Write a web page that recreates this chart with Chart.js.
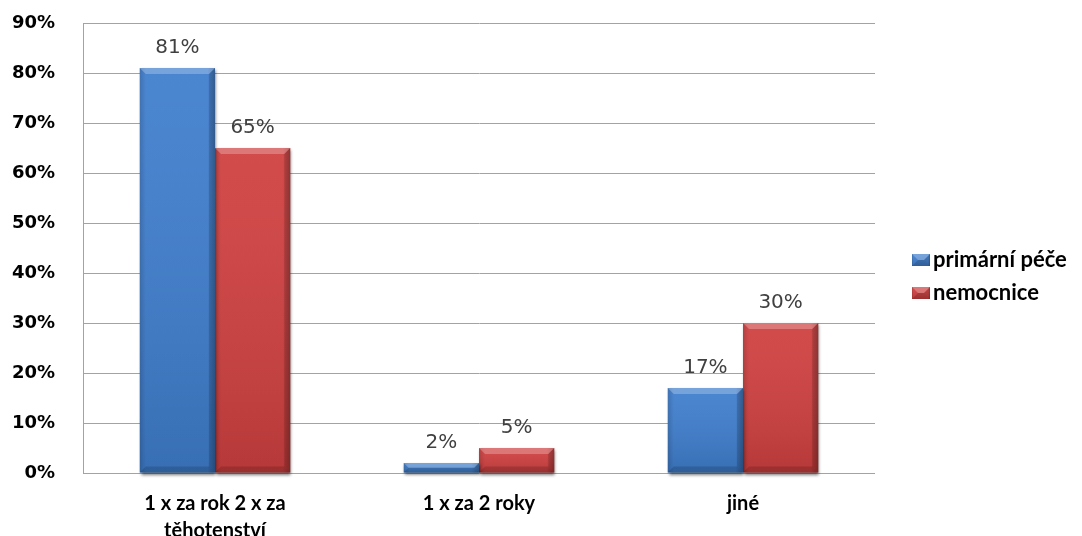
<!DOCTYPE html>
<html lang="cs">
<head>
<meta charset="utf-8">
<title>Frekvence</title>
<script src="https://cdn.jsdelivr.net/npm/chart.js@4.4.1/dist/chart.umd.min.js"></script>
<style>
    html, body { margin: 0; padding: 0; background: #fff; }
    #wrap { width: 1082px; height: 536px; position: relative; }
</style>
</head>
<body>
<div id="wrap"><canvas id="chart"></canvas></div>
<script>
// Kategorie a hodnoty (v %)
const categories = [['1 x za rok 2 x za', 'těhotenství'], '1 x za 2 roky', 'jiné'];
const primarniPece = [81, 2, 17];
const nemocnice = [65, 5, 30];
const seriesNames = ['primární péče', 'nemocnice'];
const seriesColors = ['#3f7ecd', '#d04040'];

// Stín pod sloupci
const barShadow = {
    id: 'barShadow',
    beforeDatasetsDraw(chart) {
        const ctx = chart.ctx;
        ctx.save();
        ctx.shadowColor = 'rgba(0,0,0,0.55)';
        ctx.shadowBlur = 3;
        ctx.shadowOffsetX = 1;
        ctx.shadowOffsetY = 2;
    },
    afterDatasetsDraw(chart) {
        chart.ctx.restore();
    }
};

// Zkosení hran a přechod na sloupcích
function drawBevel(ctx, left, top, w, h) {
    const b = Math.min(6, h / 2, w / 2);
    // svislý přechod
    let g = ctx.createLinearGradient(0, top, 0, top + h);
    g.addColorStop(0, 'rgba(255,255,255,0.06)');
    g.addColorStop(1, 'rgba(0,0,0,0.12)');
    ctx.fillStyle = g;
    ctx.fillRect(left, top, w, h);
    // vodorovný přechod
    g = ctx.createLinearGradient(left, 0, left + w, 0);
    g.addColorStop(0, 'rgba(0,0,0,0.15)');
    g.addColorStop(0.08, 'rgba(0,0,0,0)');
    g.addColorStop(0.9, 'rgba(0,0,0,0)');
    g.addColorStop(1, 'rgba(0,0,0,0.22)');
    ctx.fillStyle = g;
    ctx.fillRect(left, top, w, h);
    // horní hrana
    ctx.fillStyle = 'rgba(255,255,255,0.25)';
    ctx.beginPath();
    ctx.moveTo(left, top);
    ctx.lineTo(left + w, top);
    ctx.lineTo(left + w - b, top + b);
    ctx.lineTo(left + b, top + b);
    ctx.closePath();
    ctx.fill();
    // pravá hrana
    ctx.fillStyle = 'rgba(0,0,0,0.12)';
    ctx.beginPath();
    ctx.moveTo(left + w, top);
    ctx.lineTo(left + w - b, top + b);
    ctx.lineTo(left + w - b, top + h - b);
    ctx.lineTo(left + w, top + h);
    ctx.closePath();
    ctx.fill();
    // spodní hrana
    ctx.fillStyle = 'rgba(0,0,0,0.15)';
    ctx.beginPath();
    ctx.moveTo(left, top + h);
    ctx.lineTo(left + b, top + h - b);
    ctx.lineTo(left + w - b, top + h - b);
    ctx.lineTo(left + w, top + h);
    ctx.closePath();
    ctx.fill();
}

const barBevel = {
    id: 'barBevel',
    afterDatasetsDraw(chart) {
        const ctx = chart.ctx;
        ctx.save();
        chart.data.datasets.forEach((ds, i) => {
            chart.getDatasetMeta(i).data.forEach(bar => {
                const { x, y, base, width } = bar.getProps(['x', 'y', 'base', 'width'], true);
                drawBevel(ctx, x - width / 2, y, width, base - y);
            });
        });
        ctx.restore();
    }
};

// Popisky hodnot nad sloupci
const valueLabels = {
    id: 'valueLabels',
    afterDatasetsDraw(chart) {
        const ctx = chart.ctx;
        ctx.save();
        ctx.font = '20px "DejaVu Sans"';
        ctx.fillStyle = '#404040';
        ctx.textAlign = 'center';
        ctx.textBaseline = 'alphabetic';
        chart.data.datasets.forEach((ds, i) => {
            chart.getDatasetMeta(i).data.forEach((bar, j) => {
                ctx.fillText(ds.data[j] + '%', bar.x, bar.y - 15);
            });
        });
        ctx.restore();
    }
};

// Legenda vpravo
const sideLegend = {
    id: 'sideLegend',
    afterDraw(chart) {
        const ctx = chart.ctx;
        ctx.save();
        ctx.font = 'bold 22px Lato';
        ctx.textBaseline = 'middle';
        chart.data.datasets.forEach((ds, i) => {
            const cy = 260 + i * 33;
            ctx.fillStyle = ds.backgroundColor;
            ctx.fillRect(912, cy - 6, 18, 12);
            drawBevel(ctx, 912, cy - 6, 18, 12);
            ctx.fillStyle = '#000';
            ctx.fillText(ds.label, 933, cy);
        });
        ctx.restore();
    }
};

const ctx = document.getElementById('chart').getContext('2d');

new Chart(ctx, {
    type: 'bar',
    data: {
        labels: categories,
        datasets: [
            { label: seriesNames[0], data: primarniPece, backgroundColor: seriesColors[0] },
            { label: seriesNames[1], data: nemocnice, backgroundColor: seriesColors[1] }
        ]
    },
    options: {
        responsive: true,
        maintainAspectRatio: false,
        animation: false,
        devicePixelRatio: 1,
        layout: { padding: { top: 23, right: 207, left: 0, bottom: 0 } },
        datasets: {
            bar: { categoryPercentage: 0.57, barPercentage: 1.0, clip: false, borderWidth: 0 }
        },
        plugins: {
            legend: { display: false },
            tooltip: { enabled: false }
        },
        scales: {
            x: {
                grid: { display: false, drawTicks: false },
                border: { display: false },
                ticks: {
                    color: '#000',
                    padding: 17,
                    maxRotation: 0,
                    autoSkip: false,
                    font: { family: 'Lato', weight: 'bold', size: 20, lineHeight: 1.35 }
                },
                afterFit: scale => {
                    scale.height = 63;
                    scale.paddingTop = 0;
                }
            },
            y: {
                min: 0,
                max: 90,
                grid: { color: '#a3a3a3', drawTicks: false },
                border: { display: true, color: '#a3a3a3' },
                ticks: {
                    stepSize: 10,
                    color: '#000',
                    padding: 28,
                    font: { family: 'DejaVu Sans', weight: 'bold', size: 18 },
                    callback: v => v + '%'
                },
                afterFit: scale => {
                    scale.width = 83;
                    scale.paddingTop = 0;
                }
            }
        }
    },
    plugins: [barShadow, barBevel, valueLabels, sideLegend]
});
</script>
</body>
</html>
